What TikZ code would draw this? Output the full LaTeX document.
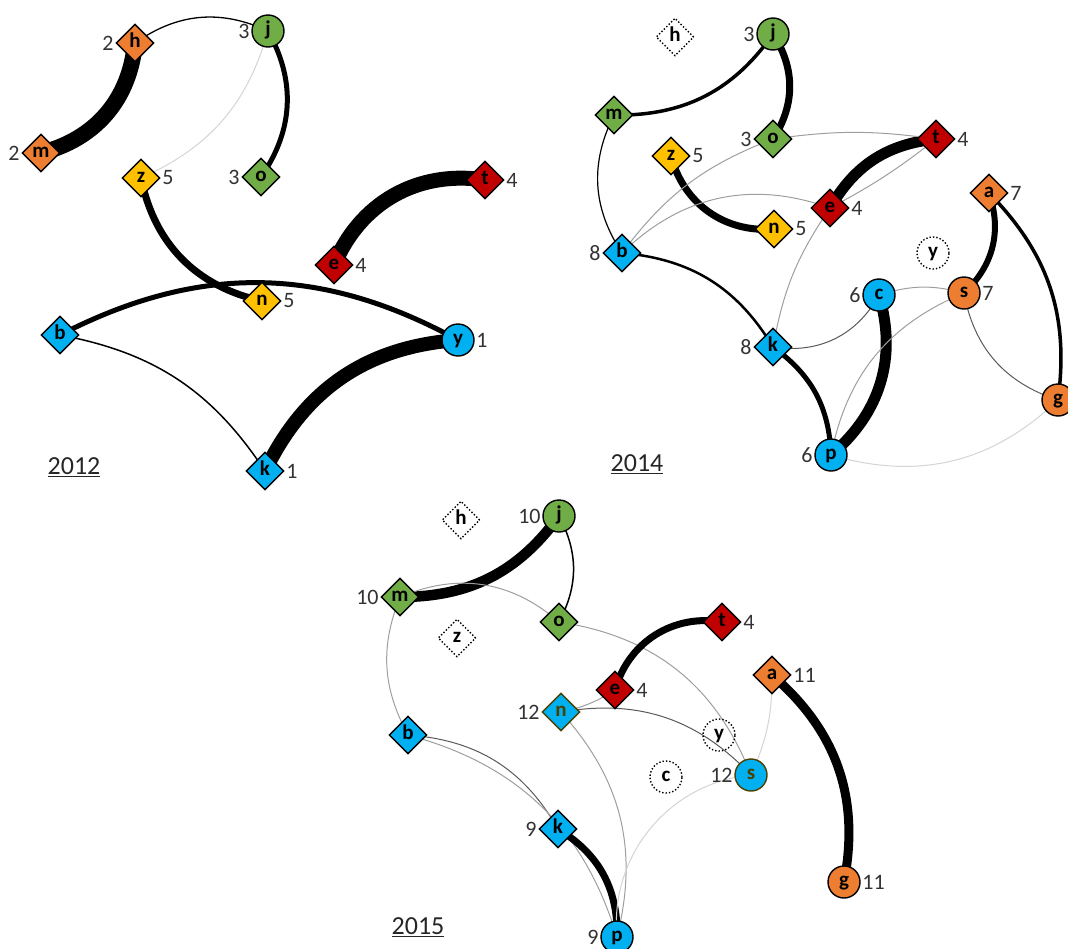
\documentclass[tikz,border=0pt]{standalone}
\usepackage{fontspec}
\setmainfont{Carlito}
\usetikzlibrary{shapes.geometric}
\pgfdeclarelayer{bg}
\pgfsetlayers{bg,main}
\definecolor{cor}{HTML}{ED7D31}
\definecolor{cgr}{HTML}{70AD47}
\definecolor{cye}{HTML}{FFC000}
\definecolor{cre}{HTML}{C00000}
\definecolor{cbl}{HTML}{00B0F0}
\definecolor{olv}{HTML}{4A4000}
\tikzset{
  base/.style={draw=black, line width=1.4pt, inner sep=0pt, text height=11pt, text depth=2.5pt,
    font=\fontsize{21}{21}\selectfont\bfseries, label distance=0pt},
  dia/.style={base, diamond, aspect=1, minimum size=38pt},
  cir/.style={base, circle, minimum size=32pt},
  ddia/.style={dia, dotted},
  dcir/.style={cir, dotted},
  oliv/.style={draw=olv, text=olv},
  num/.style={font=\fontsize{22}{22}\selectfont, inner sep=1.5pt, text=black!80},
  yr/.style={font=\fontsize{26}{26}\selectfont, text=black!85},
  vlg/.style={draw=black!17, line width=1pt},
  lg/.style={draw=black!38, line width=1pt},
  dg/.style={draw=black!65, line width=1pt},
  bk/.style={draw=black, line width=#1},
}
\begin{document}
\begin{tikzpicture}[x=1pt,y=-1pt]
\useasboundingbox (0,0) rectangle (1068,948);
% ---------------- 2012 ----------------
\node[dia, fill=cor, label={[num]left:2}] (A-h) at (135,43) {h};
\node[cir, fill=cgr, label={[num]left:3}] (A-j) at (268,31) {j};
\node[dia, fill=cor, label={[num]left:2}] (A-m) at (41,153) {m};
\node[dia, fill=cye, label={[num]right:5}] (A-z) at (141,178) {z};
\node[dia, fill=cgr, label={[num]left:3}] (A-o) at (261,177) {o};
\node[dia, fill=cre, label={[num]right:4}] (A-t) at (485,180) {t};
\node[dia, fill=cre, label={[num]right:4}] (A-e) at (334,265) {e};
\node[dia, fill=cye, label={[num]right:5}] (A-n) at (262,301) {n};
\node[dia, fill=cbl] (A-b) at (60,335) {b};
\node[cir, fill=cbl, label={[num]right:1}] (A-y) at (458,340) {y};
\node[dia, fill=cbl, label={[num]right:1}] (A-k) at (265,471) {k};
\node[yr] (A-yr) at (74,467) {\underline{2012}};
% ---------------- 2014 ----------------
\node[ddia] (B-h) at (675,37) {h};
\node[cir, fill=cgr, label={[num]left:3}] (B-j) at (773,34) {j};
\node[dia, fill=cgr] (B-m) at (614,115) {m};
\node[dia, fill=cgr, label={[num]left:3}] (B-o) at (773,139) {o};
\node[dia, fill=cre, label={[num]right:4}] (B-t) at (936,139) {t};
\node[dia, fill=cye, label={[num]right:5}] (B-z) at (671,156) {z};
\node[dia, fill=cor, label={[num]right:7}] (B-a) at (989,193) {a};
\node[dia, fill=cre, label={[num]right:4}] (B-e) at (830,208) {e};
\node[dia, fill=cye, label={[num]right:5}] (B-n) at (774,229) {n};
\node[dia, fill=cbl, label={[num]left:8}] (B-b) at (622,253) {b};
\node[dcir] (B-y) at (933,253) {y};
\node[cir, fill=cbl, label={[num]left:6}] (B-c) at (879,295) {c};
\node[cir, fill=cor, label={[num]right:7}] (B-s) at (964,293) {s};
\node[dia, fill=cbl, label={[num]left:8}] (B-k) at (773,347) {k};
\node[cir, fill=cor] (B-g) at (1058,400) {g};
\node[cir, fill=cbl, label={[num]left:6}] (B-p) at (831,455) {p};
\node[yr] (B-yr) at (637,464) {\underline{2014}};
% ---------------- 2015 ----------------
\node[ddia] (C-h) at (461,520) {h};
\node[cir, fill=cgr, label={[num]left:10}] (C-j) at (559,516) {j};
\node[dia, fill=cgr, label={[num]left:10}] (C-m) at (400,597) {m};
\node[dia, fill=cgr] (C-o) at (559,622) {o};
\node[ddia] (C-z) at (457,638) {z};
\node[dia, fill=cre, label={[num]right:4}] (C-t) at (722,622) {t};
\node[dia, fill=cor, label={[num]right:11}] (C-a) at (772,675) {a};
\node[dia, fill=cre, label={[num]right:4}] (C-e) at (615,690) {e};
\node[dia, fill=cbl, oliv, label={[num]left:12}] (C-n) at (561,712) {n};
\node[dcir] (C-y) at (719,735) {y};
\node[dia, fill=cbl] (C-b) at (408,735) {b};
\node[dcir] (C-c) at (666,777) {c};
\node[cir, fill=cbl, oliv, label={[num]left:12}] (C-s) at (751,775) {s};
\node[dia, fill=cbl, label={[num]left:9}] (C-k) at (558,829) {k};
\node[cir, fill=cor, label={[num]right:11}] (C-g) at (844,882) {g};
\node[cir, fill=cbl, label={[num]left:9}] (C-p) at (617,937) {p};
\node[yr] (C-yr) at (418,927) {\underline{2015}};
% ---------------- edges ----------------
\begin{pgfonlayer}{bg}
% 2012
\draw[bk=16pt] (A-h.center) to[bend left=35] (A-m.center);
\draw[bk=1.3pt] (A-h.center) to[bend left=30] (A-j.center);
\draw[vlg] (A-j.center) to[bend left=25] (A-z.center);
\draw[bk=5pt] (A-j.center) to[bend left=32] (A-o.center);
\draw[bk=7pt] (A-z.center) to[bend right=33] (A-n.center);
\draw[bk=15pt] (A-e.center) to[bend left=38] (A-t.center);
\draw[bk=5pt] (A-b.center) to[bend left=28] (A-y.center);
\draw[bk=1.5pt] (A-b.center) to[bend left=23] (A-k.center);
\draw[bk=14pt] (A-y.center) to[bend right=30] (A-k.center);
% 2014
\draw[bk=3.5pt] (B-j.center) to[bend left=28] (B-m.center);
\draw[bk=7pt] (B-j.center) to[bend left=33] (B-o.center);
\draw[bk=1.2pt] (B-m.center) to[bend right=30] (B-b.center);
\draw[bk=7pt] (B-z.center) to[bend right=40] (B-n.center);
\draw[bk=11pt] (B-e.center) to[bend left=27] (B-t.center);
\draw[lg] (B-t.center) to[bend left=5] (B-e.center);
\draw[lg] (B-e.center) to[bend right=12] (B-k.center);
\draw[lg] (B-b.center) to[bend left=16] (B-o.center);
\draw[lg] (B-o.center) to[bend left=8] (B-t.center);
\draw[lg] (B-b.center) to[bend left=32] (B-e.center);
\draw[bk=2.5pt] (B-b.center) to[bend left=27] (B-k.center);
\draw[bk=5pt] (B-k.center) to[bend left=26] (B-p.center);
\draw[bk=11pt] (B-c.center) to[bend left=33] (B-p.center);
\draw[dg] (B-k.center) to[bend right=35] (B-c.center);
\draw[lg] (B-c.center) to[bend left=16] (B-s.center);
\draw[lg] (B-s.center) to[bend right=28] (B-p.center);
\draw[bk=6pt] (B-a.center) to[bend left=33] (B-s.center);
\draw[bk=3.5pt] (B-a.center) to[bend left=26] (B-g.center);
\draw[dg] (B-s.center) to[bend right=31] (B-g.center);
\draw[vlg] (B-p.center) to[bend right=30] (B-g.center);
% 2015
\draw[bk=10.5pt] (C-j.center) to[bend left=27] (C-m.center);
\draw[bk=1.5pt] (C-j.center) to[bend left=28] (C-o.center);
\draw[lg] (C-m.center) to[bend left=32] (C-o.center);
\draw[lg] (C-o.center) to[bend left=30] (C-s.center);
\draw[lg] (C-m.center) to[bend right=25] (C-b.center);
\draw[bk=7pt] (C-e.center) to[bend left=42] (C-t.center);
\draw[bk=9pt] (C-a.center) to[bend left=30] (C-g.center);
\draw[lg] (C-n.center) to[bend right=10] (C-e.center);
\draw[dg] (C-n.center) to[bend left=28] (C-s.center);
\draw[dg] (C-b.center) to[bend left=28] (C-k.center);
\draw[lg] (C-b.center) to[bend left=29] (C-p.center);
\draw[bk=7pt] (C-k.center) to[bend left=30] (C-p.center);
\draw[lg] (C-n.center) to[bend left=28] (C-p.center);
\draw[vlg] (C-s.center) to[bend right=45] (C-p.center);
\draw[vlg] (C-a.center) to[bend left=12] (C-s.center);
\end{pgfonlayer}
\end{tikzpicture}
\end{document}
